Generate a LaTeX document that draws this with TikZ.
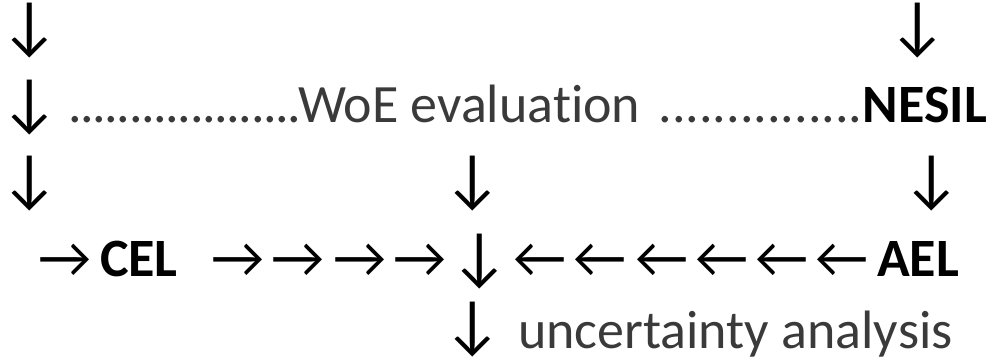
\documentclass[tikz,border=0pt]{standalone}
\usepackage{fontspec}
\setmainfont{Carlito}[Ligatures=NoCommon]
\newfontfamily\arrowfont{Lato}
\definecolor{txtgray}{HTML}{3A3A3A}
\begin{document}
\begin{tikzpicture}[x=1pt,y=-1pt,
  every node/.style={inner sep=0pt, outer sep=0pt, font=\fontsize{54}{60}\selectfont},
  arr/.style={anchor=base, text=black, font=\fontsize{62}{66}\selectfont\arrowfont},
  harr/.style={anchor=base, text=black, font=\fontsize{55}{58}\selectfont\arrowfont},
  word/.style={text=txtgray},
  key/.style={text=black, font=\fontsize{54}{60}\selectfont\bfseries}]
\useasboundingbox (0,0) rectangle (987,362);
% row 1
\node[arr] (a1l) at (30,47) {↓};
\node[arr] (a1r) at (918,47) {↓};
% row 2
\node[arr] (a2l) at (30,124) {↓};
\node[word, anchor=base west, font=\fontsize{54}{60}\selectfont\addfontfeature{LetterSpace=-2.6}] (dl) at (68,122) {...................};
\node[word, anchor=base west] (woe) at (298,122) {WoE evaluation};
\node[key, anchor=base east] (nesil) at (987,122) {NESIL};
\node[word, anchor=base east] (dr) at (nesil.base west) {...............};
% row 3
\node[arr] (a3l) at (30,200) {↓};
\node[arr] (a3m) at (473,200) {↓};
\node[arr] (a3r) at (932,200) {↓};
% row 4
\node[harr] (r0) at (65,277) {→};
\node[key, anchor=base west] (cel) at (100,276) {CEL};
\node[harr] (r1) at (238,277) {→};
\node[harr] (r2) at (298,277) {→};
\node[harr] (r3) at (360,277) {→};
\node[harr] (r4) at (420,277) {→};
\node[arr] (dm) at (480,278) {↓};
\node[harr] (l1) at (540,277) {←};
\node[harr] (l2) at (600,277) {←};
\node[harr] (l3) at (662,277) {←};
\node[harr] (l4) at (722,277) {←};
\node[harr] (l5) at (782,277) {←};
\node[harr] (l6) at (842,277) {←};
\node[key, anchor=base west] (ael) at (877,276) {AEL};
% row 5
\node[arr] (a5) at (473,346) {↓};
\node[word, anchor=base west] (ua) at (518,348) {uncertainty analysis};
\end{tikzpicture}
\end{document}
